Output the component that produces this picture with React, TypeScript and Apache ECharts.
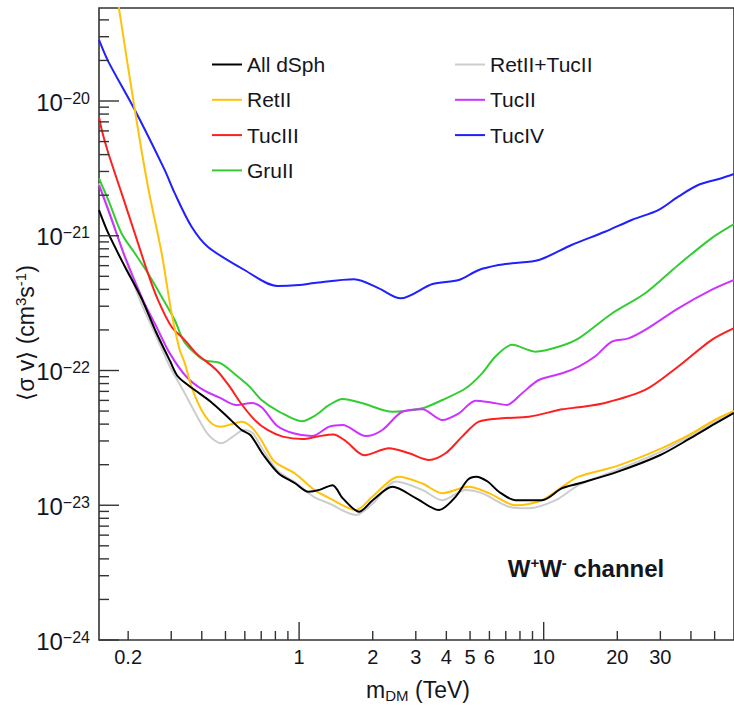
import React, { useEffect, useRef } from "react";
import * as echarts from "echarts";

type Pt = [number, number];

const FONT = '"Liberation Sans", Arial, sans-serif';
const TEXT_COLOR = "#151520";
const AXIS_COLOR = "#333333";

const X_MIN = 0.152;
const X_MAX = 60;
const Y_MIN = 1e-24;
const Y_MAX = 4.9e-20;

// Upper limits on <sigma v> (cm^3 s^-1) versus m_DM (TeV), W+W- channel
const allDSph: Pt[] = [
  [0.152, 1.55e-21], [0.166, 1.04e-21], [0.194, 5.89e-22], [0.227, 3.42e-22], [0.26, 1.93e-22],
  [0.297, 1.17e-22], [0.32, 8.99e-23], [0.366, 7.38e-23], [0.434, 5.88e-23], [0.508, 4.55e-23],
  [0.582, 3.62e-23], [0.632, 3.32e-23], [0.715, 2.36e-23], [0.823, 1.73e-23], [0.966, 1.45e-23],
  [1.091, 1.26e-23], [1.21, 1.3e-23], [1.37, 1.41e-23], [1.506, 1.13e-23], [1.76, 8.96e-24],
  [2.0, 1.09e-23], [2.41, 1.37e-23], [3.0, 1.13e-23], [3.73, 9.22e-24], [4.37, 1.16e-23],
  [4.9, 1.55e-23], [5.3, 1.63e-23], [5.9, 1.5e-23], [6.56, 1.26e-23], [7.67, 1.09e-23],
  [9.84, 1.09e-23], [11.9, 1.34e-23], [13.9, 1.45e-23], [20, 1.77e-23], [30, 2.36e-23],
  [40, 3.16e-23], [50, 4.01e-23], [60, 4.84e-23],
];

const retII: Pt[] = [
  [0.18, 6.1e-20], [0.213, 8.57e-21], [0.241, 2.31e-21], [0.274, 7.45e-22], [0.301, 2.67e-22],
  [0.325, 1.42e-22], [0.341, 1.13e-22], [0.363, 7.59e-23], [0.399, 5.09e-23], [0.438, 4.06e-23],
  [0.481, 3.83e-23], [0.528, 3.99e-23], [0.58, 4.17e-23], [0.637, 3.83e-23], [0.7, 3.05e-23],
  [0.793, 2.11e-23], [0.957, 1.73e-23], [1.154, 1.3e-23], [1.329, 1.13e-23], [1.708, 9.22e-24],
  [1.995, 1.16e-23], [2.56, 1.63e-23], [3.19, 1.45e-23], [3.85, 1.23e-23], [4.94, 1.37e-23],
  [5.97, 1.23e-23], [7.67, 1.0e-23], [9.84, 1.09e-23], [11.9, 1.37e-23], [13.9, 1.63e-23],
  [20, 1.96e-23], [30, 2.62e-23], [40, 3.38e-23], [50, 4.3e-23], [60, 5.01e-23],
];

const tucIII: Pt[] = [
  [0.152, 7.64e-21], [0.156, 6.1e-21], [0.166, 4.09e-21], [0.188, 2.07e-21], [0.213, 1.04e-21],
  [0.241, 5.26e-22], [0.265, 3.33e-22], [0.301, 2.11e-22], [0.341, 1.68e-22], [0.38, 1.34e-22],
  [0.459, 1.01e-22], [0.52, 7.59e-23], [0.577, 5.74e-23], [0.658, 4.3e-23], [0.743, 3.62e-23],
  [0.857, 3.23e-23], [1.034, 3.1e-23], [1.2, 3.25e-23], [1.38, 3.35e-23], [1.55, 3.0e-23],
  [1.85, 2.35e-23], [2.33, 2.65e-23], [2.82, 2.43e-23], [3.4, 2.17e-23], [3.97, 2.43e-23],
  [4.64, 3.23e-23], [5.43, 4.17e-23], [6.76, 4.42e-23], [8.69, 4.54e-23], [11.9, 5.15e-23],
  [13.9, 5.33e-23], [17.8, 5.74e-23], [26, 7.17e-23], [35.5, 1.07e-22], [48.5, 1.68e-22],
  [60, 2.06e-22],
];

const gruII: Pt[] = [
  [0.152, 2.67e-21], [0.166, 1.84e-21], [0.188, 1.04e-21], [0.213, 7.41e-22], [0.241, 5.26e-22],
  [0.274, 3.53e-22], [0.31, 2.37e-22], [0.336, 1.68e-22], [0.363, 1.42e-22], [0.407, 1.2e-22],
  [0.478, 1.13e-22], [0.558, 9.1e-23], [0.627, 7.59e-23], [0.702, 6.04e-23], [0.831, 4.94e-23],
  [1.027, 4.2e-23], [1.154, 4.59e-23], [1.329, 5.55e-23], [1.506, 6.15e-23], [1.817, 5.71e-23],
  [2.41, 4.94e-23], [3.19, 5.24e-23], [3.85, 6.04e-23], [4.8, 7.38e-23], [5.6, 9.53e-23],
  [6.35, 1.27e-22], [7.43, 1.55e-22], [9.25, 1.38e-22], [11.5, 1.5e-22], [13.9, 1.73e-22],
  [19, 2.65e-22], [26, 3.74e-22], [35.5, 6.07e-22], [48.5, 9.57e-22], [60, 1.22e-21],
];

const retIITucII: Pt[] = [
  [0.152, 2.45e-21], [0.1685, 1.48e-21], [0.194, 6.8e-22], [0.2234, 3.33e-22], [0.261, 1.78e-22],
  [0.296, 1.07e-22], [0.335, 7.17e-23], [0.38, 4.68e-23], [0.427, 3.31e-23], [0.481, 2.88e-23],
  [0.54, 3.26e-23], [0.593, 3.62e-23], [0.647, 3.42e-23], [0.705, 2.65e-23], [0.823, 1.78e-23],
  [0.966, 1.48e-23], [1.144, 1.16e-23], [1.329, 1.03e-23], [1.708, 8.47e-24], [2.0, 1.03e-23],
  [2.49, 1.5e-23], [3.19, 1.3e-23], [3.85, 1.09e-23], [4.8, 1.3e-23], [5.6, 1.23e-23],
  [7.2, 9.75e-24], [8.69, 9.49e-24], [11.2, 1.09e-23], [13.9, 1.41e-23], [20, 1.83e-23],
  [30, 2.49e-23], [50, 4.15e-23], [60, 4.92e-23],
];

const tucII: Pt[] = [
  [0.152, 2.38e-21], [0.1685, 1.43e-21], [0.194, 7.0e-22], [0.23, 3.33e-22], [0.261, 2.11e-22],
  [0.296, 1.34e-22], [0.346, 8.99e-23], [0.405, 7.17e-23], [0.473, 6.3e-23], [0.554, 5.55e-23],
  [0.642, 5.74e-23], [0.705, 5.31e-23], [0.812, 3.89e-23], [0.948, 3.42e-23], [1.128, 3.26e-23],
  [1.329, 3.83e-23], [1.506, 3.94e-23], [1.875, 3.26e-23], [2.19, 3.62e-23], [2.64, 4.94e-23],
  [3.19, 5.15e-23], [3.85, 4.29e-23], [4.5, 4.81e-23], [5.27, 5.97e-23], [6.15, 5.77e-23],
  [7.06, 5.55e-23], [8.16, 6.78e-23], [9.55, 8.5e-23], [11.9, 9.53e-23], [13.9, 1.07e-22],
  [16.2, 1.27e-22], [19, 1.64e-22], [22.2, 1.73e-22], [26, 2.0e-22], [35.5, 2.89e-22],
  [48.5, 3.96e-22], [60, 4.7e-22],
];

const tucIV: Pt[] = [
  [0.152, 2.84e-20], [0.166, 1.96e-20], [0.213, 8.57e-21], [0.282, 3.08e-21], [0.31, 2.07e-21],
  [0.363, 1.17e-21], [0.423, 8.3e-22], [0.598, 5.57e-22], [0.815, 4.24e-22], [1.0, 4.31e-22],
  [1.154, 4.46e-22], [1.68, 4.75e-22], [2.12, 4.07e-22], [2.6, 3.43e-22], [3.51, 4.38e-22],
  [4.5, 4.7e-22], [5.43, 5.57e-22], [6.56, 6.07e-22], [7.43, 6.25e-22], [9.55, 6.61e-22],
  [13, 8.54e-22], [17.8, 1.07e-21], [22.9, 1.31e-21], [29.4, 1.55e-21], [35.5, 1.95e-21],
  [42.8, 2.38e-21], [53.3, 2.67e-21], [60, 2.87e-21],
];

const seriesDefs: { name: string; data: Pt[]; color: string }[] = [
  { name: "RetII+TucII", data: retIITucII, color: "#cdcdcd" },
  { name: "TucIV", data: tucIV, color: "#1f1fff" },
  { name: "GruII", data: gruII, color: "#33cc33" },
  { name: "TucII", data: tucII, color: "#cc33ff" },
  { name: "TucIII", data: tucIII, color: "#ff1f1f" },
  { name: "RetII", data: retII, color: "#ffc20a" },
  { name: "All dSph", data: allDSph, color: "#000000" },
];

const legendLeftColumn = ["All dSph", "RetII", "TucIII", "GruII"];
const legendRightColumn = ["RetII+TucII", "TucII", "TucIV"];

// Tick positions for the log axes
const xMajorTicks = [1, 10];
const xMinorTicks = [0.2, 0.3, 0.4, 0.5, 0.6, 0.7, 0.8, 0.9, 2, 3, 4, 5, 6, 7, 8, 9, 20, 30, 40, 50];
const xTickLabels = [0.2, 1, 2, 3, 4, 5, 6, 10, 20, 30];
const yDecades = [-24, -23, -22, -21, -20];
const yMinorMantissas = [2, 3, 4, 5, 6, 7, 8, 9];

type XTick = { v: number; len: number; label: string | null };
type YTick = { v: number; len: number; exp: number | null };

const xTicks: XTick[] = [
  ...xMajorTicks.map((v) => ({ v, len: 18, label: xTickLabels.includes(v) ? String(v) : null })),
  ...xMinorTicks.map((v) => ({ v, len: 9, label: xTickLabels.includes(v) ? String(v) : null })),
];

const yTicks: YTick[] = [];
yDecades.forEach((d) => {
  yTicks.push({ v: Math.pow(10, d), len: 20, exp: d });
  yMinorMantissas.forEach((m) => {
    const v = m * Math.pow(10, d);
    if (v <= Y_MAX) yTicks.push({ v, len: 10, exp: null });
  });
});

export default function App() {
  const ref = useRef<HTMLDivElement>(null);

  useEffect(() => {
    if (!ref.current) return;
    const chart = echarts.init(ref.current, undefined, { renderer: "svg" });

    const lineSeries = seriesDefs.map((s) => ({
      name: s.name,
      type: "line",
      data: s.data,
      smooth: 0.3,
      showSymbol: false,
      symbol: "none",
      clip: true,
      lineStyle: { color: s.color, width: 2 },
      itemStyle: { color: s.color },
      z: 3,
    }));

    const legendBase = {
      orient: "vertical",
      top: 49,
      itemWidth: 30,
      itemHeight: 21,
      itemGap: 14.3,
      icon: "path://M0,9.5 L30,9.5 L30,11.5 L0,11.5 Z",
      selectedMode: false,
      textStyle: { fontSize: 21, fontFamily: FONT, color: TEXT_COLOR, lineHeight: 21 },
    };

    const option: any = {
      animation: false,
      backgroundColor: "#ffffff",
      grid: {
        left: 99,
        right: -2,
        top: 8,
        bottom: 68,
        show: true,
        borderColor: AXIS_COLOR,
        borderWidth: 1.6,
        backgroundColor: "transparent",
      },
      xAxis: {
        type: "log",
        logBase: 10,
        min: X_MIN,
        max: X_MAX,
        axisLine: { show: false },
        axisTick: { show: false },
        axisLabel: { show: false },
        splitLine: { show: false },
      },
      yAxis: {
        type: "log",
        logBase: 10,
        min: Y_MIN,
        max: Y_MAX,
        axisLine: { show: false },
        axisTick: { show: false },
        axisLabel: { show: false },
        splitLine: { show: false },
      },
      legend: [
        { ...legendBase, left: 207, data: legendLeftColumn },
        { ...legendBase, left: 450, data: legendRightColumn },
      ],
      series: [
        ...lineSeries,
        {
          type: "custom",
          name: "xTicks",
          coordinateSystem: "cartesian2d",
          clip: false,
          silent: true,
          z: 5,
          data: xTicks.map((t) => [t.v, Y_MIN]),
          renderItem: (params: any, api: any) => {
            const t = xTicks[params.dataIndex];
            const p = api.coord([t.v, Y_MIN]);
            const children: any[] = [
              {
                type: "line",
                shape: { x1: p[0], y1: p[1], x2: p[0], y2: p[1] - t.len },
                style: { stroke: AXIS_COLOR, lineWidth: 1.4 },
              },
            ];
            if (t.label) {
              children.push({
                type: "text",
                x: p[0],
                y: p[1] + 7,
                style: {
                  text: t.label,
                  fill: TEXT_COLOR,
                  fontSize: 20,
                  fontFamily: FONT,
                  align: "center",
                  verticalAlign: "top",
                  textAlign: "center",
                  textVerticalAlign: "top",
                },
              });
            }
            return { type: "group", children };
          },
        },
        {
          type: "custom",
          name: "yTicks",
          coordinateSystem: "cartesian2d",
          clip: false,
          silent: true,
          z: 5,
          data: yTicks.map((t) => [X_MIN, t.v]),
          renderItem: (params: any, api: any) => {
            const t = yTicks[params.dataIndex];
            const p = api.coord([X_MIN, t.v]);
            const children: any[] = [
              {
                type: "line",
                shape: { x1: p[0], y1: p[1], x2: p[0] + t.len, y2: p[1] },
                style: { stroke: AXIS_COLOR, lineWidth: 1.4 },
              },
            ];
            if (t.exp !== null) {
              children.push({
                type: "text",
                x: p[0] - 9,
                y: p[1] + 1,
                style: {
                  text: `{b|10}{s|\u2212${-t.exp}}`,
                  fill: TEXT_COLOR,
                  fontFamily: FONT,
                  align: "right",
                  verticalAlign: "middle",
                  textAlign: "right",
                  textVerticalAlign: "middle",
                  rich: {
                    b: { fontSize: 24, fontFamily: FONT, fill: TEXT_COLOR, lineHeight: 24 },
                    s: { fontSize: 16, fontFamily: FONT, fill: TEXT_COLOR, lineHeight: 16, verticalAlign: "top" },
                  },
                },
              });
            }
            return { type: "group", children };
          },
        },
      ],
      graphic: [
        {
          type: "text",
          x: 26,
          y: 333,
          rotation: Math.PI / 2,
          style: {
            text: "{a|\u27E8\u03C3 v\u27E9 (cm}{s|3}{a|s}{s|-1}{a|)}",
            fill: TEXT_COLOR,
            align: "center",
            verticalAlign: "middle",
            textAlign: "center",
            textVerticalAlign: "middle",
            rich: {
              a: { fontSize: 23, fontFamily: FONT, fill: TEXT_COLOR, lineHeight: 26 },
              s: { fontSize: 15, fontFamily: FONT, fill: TEXT_COLOR, lineHeight: 15, verticalAlign: "top" },
            },
          },
        },
        {
          type: "text",
          x: 418,
          y: 690,
          style: {
            text: "{a|m}{d|DM}{a| (TeV)}",
            fill: TEXT_COLOR,
            align: "center",
            verticalAlign: "middle",
            textAlign: "center",
            textVerticalAlign: "middle",
            rich: {
              a: { fontSize: 23, fontFamily: FONT, fill: TEXT_COLOR, lineHeight: 26 },
              d: { fontSize: 15, fontFamily: FONT, fill: TEXT_COLOR, lineHeight: 15, verticalAlign: "bottom" },
            },
          },
        },
        {
          type: "text",
          x: 586,
          y: 568,
          style: {
            text: "{a|W}{s|+}{a|W}{s|-}{a| channel}",
            fill: TEXT_COLOR,
            align: "center",
            verticalAlign: "middle",
            textAlign: "center",
            textVerticalAlign: "middle",
            rich: {
              a: { fontSize: 24, fontWeight: "bold", fontFamily: FONT, fill: TEXT_COLOR, lineHeight: 26 },
              s: { fontSize: 15, fontWeight: "bold", fontFamily: FONT, fill: TEXT_COLOR, lineHeight: 15, verticalAlign: "top" },
            },
          },
        },
      ],
    };

    chart.setOption(option);
    return () => chart.dispose();
  }, []);

  return (
    <div
      ref={ref}
      style={{ position: "fixed", left: 0, top: 0, width: 734, height: 708, background: "#fff" }}
    />
  );
}
